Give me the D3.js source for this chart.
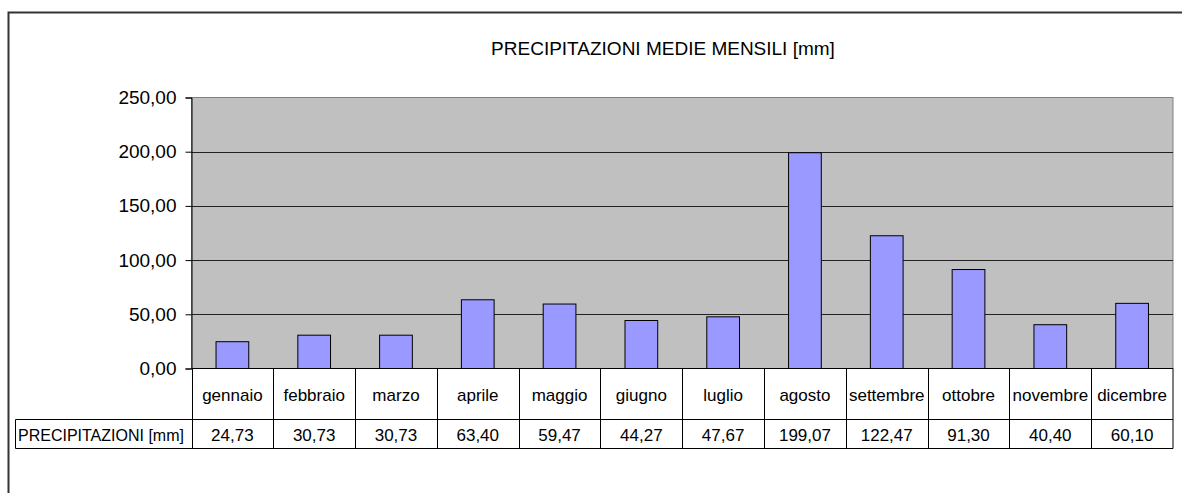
<!DOCTYPE html>
<html>
<head>
<meta charset="utf-8">
<script src="https://cdn.jsdelivr.net/npm/d3@7"></script>
<style>
  body { margin: 0; background: #fff; }
  svg text { font-family: "Liberation Sans", Arial, sans-serif; fill: #000; }
</style>
</head>
<body>
<div id="chart"></div>
<script>
// dati
const mesi = ["gennaio", "febbraio", "marzo", "aprile", "maggio", "giugno",
  "luglio", "agosto", "settembre", "ottobre", "novembre", "dicembre"];
const precipitazioni = [24.73, 30.73, 30.73, 63.40, 59.47, 44.27, 47.67, 199.07, 122.47, 91.30, 40.40, 60.10];
const yTicks = [0, 50, 100, 150, 200, 250];
const titolo = "PRECIPITAZIONI MEDIE MENSILI [mm]";
const serieNome = "PRECIPITAZIONI [mm]";

const W = 1182, H = 493;
const plot = {left: 191.5, right: 1173, top: 97.5, bottom: 368.5};
const rowH1 = 51, rowH2 = 29;

const fmt = v => d3.format(".2f")(v).replace(".", ",");

const svg = d3.select("#chart").append("svg")
  .attr("width", W).attr("height", H);

// bordo esterno
svg.append("rect")
  .attr("x", 8.5).attr("y", 12.5).attr("width", 1200).attr("height", 500)
  .attr("fill", "none").attr("stroke", "#333").attr("stroke-width", 2);

const x = d3.scaleBand().domain(mesi).range([plot.left, plot.right]);
const y = d3.scaleLinear().domain([0, 250]).range([plot.bottom, plot.top]);

// area del grafico
svg.append("rect")
  .attr("x", plot.left).attr("y", plot.top)
  .attr("width", plot.right - plot.left).attr("height", plot.bottom - plot.top)
  .attr("fill", "#c0c0c0").attr("stroke", "#808080");

// griglia
svg.append("g").selectAll("line").data(yTicks.filter(d => d > 0 && d < 250)).join("line")
  .attr("x1", plot.left).attr("x2", plot.right)
  .attr("y1", d => Math.round(y(d)) + 0.5).attr("y2", d => Math.round(y(d)) + 0.5)
  .attr("stroke", "#222").attr("stroke-width", 1);

// asse y
const yAxis = d3.axisLeft(y).tickValues(yTicks).tickSize(6).tickPadding(9).tickFormat(fmt);
const gy = svg.append("g").attr("transform", `translate(${plot.left},0)`).call(yAxis);
gy.select(".domain").attr("stroke", "#000");
gy.selectAll(".tick line").attr("stroke", "#000");
gy.selectAll(".tick text").style("font-size", "19px").attr("fill", "#000");

// barre
const bw = x.bandwidth() * 0.4;
svg.append("g").selectAll("rect").data(precipitazioni).join("rect")
  .attr("x", (d, i) => x(mesi[i]) + (x.bandwidth() - bw) / 2)
  .attr("y", d => y(d))
  .attr("width", bw)
  .attr("height", d => y(0) - y(d))
  .attr("fill", "#9999ff").attr("stroke", "#000").attr("stroke-width", 1);

// titolo
svg.append("text")
  .attr("x", 663).attr("y", 55)
  .attr("text-anchor", "middle")
  .style("font-size", "19px")
  .text(titolo);

// tabella dati
const t0 = plot.bottom, t1 = t0 + rowH1, t2 = t1 + rowH2;
const tab = svg.append("g").attr("stroke", "#000").attr("stroke-width", 1);
tab.append("line").attr("x1", plot.left).attr("x2", plot.right).attr("y1", t0).attr("y2", t0);
tab.append("line").attr("x1", 15.5).attr("x2", plot.right).attr("y1", t1).attr("y2", t1);
tab.append("line").attr("x1", 15.5).attr("x2", plot.right).attr("y1", t2).attr("y2", t2);
tab.append("line").attr("x1", 15.5).attr("x2", 15.5).attr("y1", t1).attr("y2", t2);
tab.selectAll(".col").data(mesi.concat(["end"])).join("line")
  .attr("x1", (d, i) => i < mesi.length ? Math.round(x(d)) + 0.5 : plot.right)
  .attr("x2", (d, i) => i < mesi.length ? Math.round(x(d)) + 0.5 : plot.right)
  .attr("y1", t0).attr("y2", t2);

svg.append("g").selectAll("text").data(mesi).join("text")
  .attr("x", d => x(d) + x.bandwidth() / 2)
  .attr("y", t0 + 32)
  .attr("text-anchor", "middle")
  .style("font-size", "17px")
  .text(d => d);

svg.append("g").selectAll("text").data(precipitazioni).join("text")
  .attr("x", (d, i) => x(mesi[i]) + x.bandwidth() / 2)
  .attr("y", t1 + 21)
  .attr("text-anchor", "middle")
  .style("font-size", "17px")
  .text(d => fmt(d));

svg.append("text")
  .attr("x", 18).attr("y", t1 + 21)
  .style("font-size", "16px")
  .text(serieNome);
</script>
</body>
</html>
